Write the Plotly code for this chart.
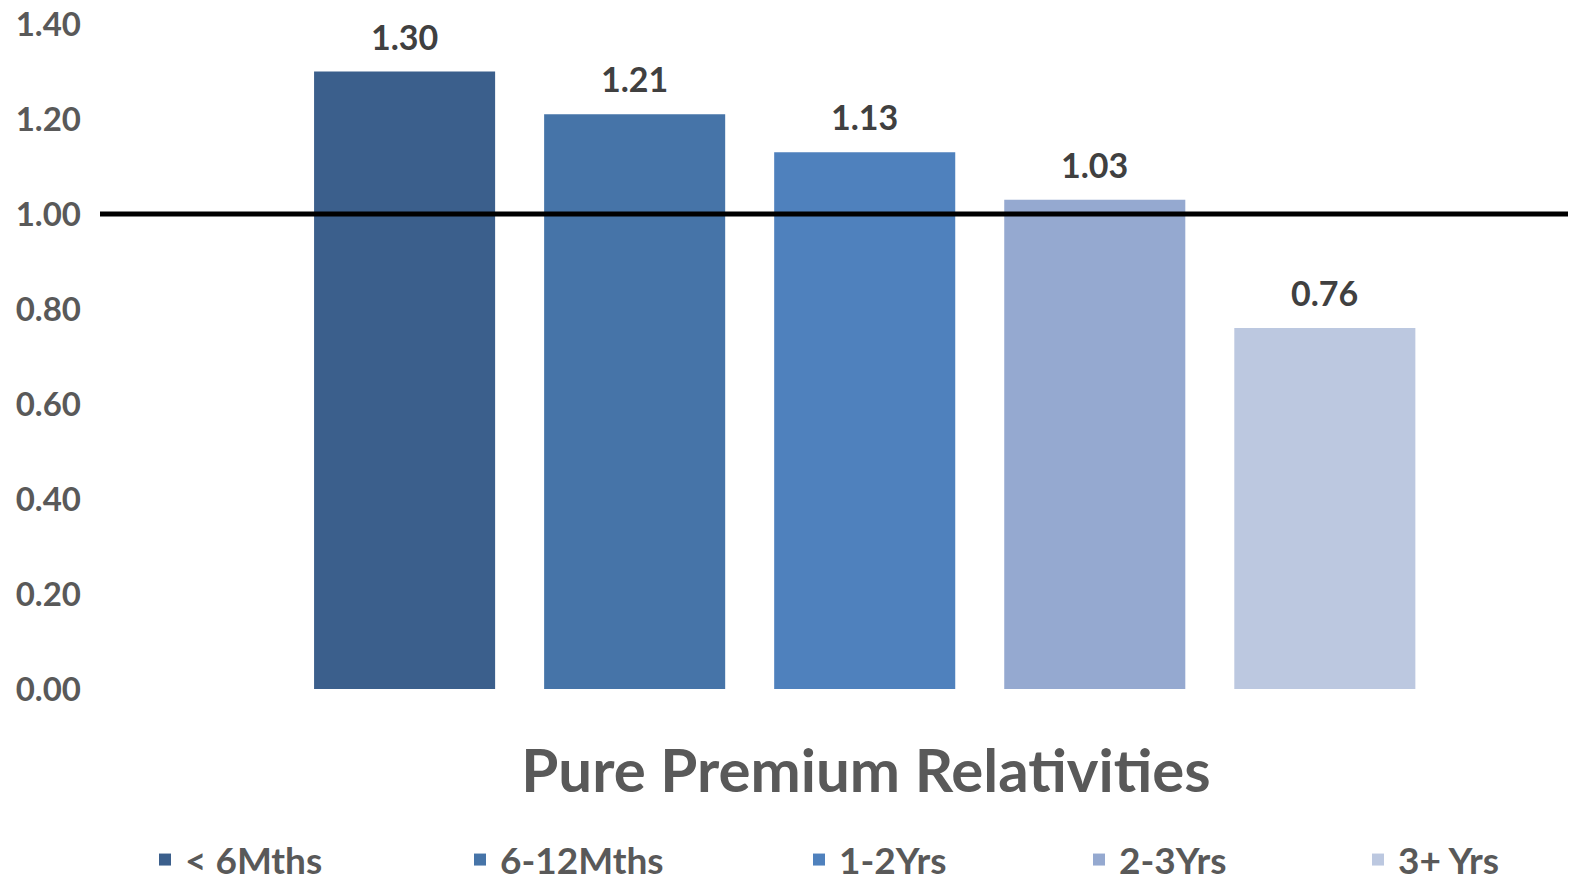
import plotly.graph_objects as go

# Pure premium relativities by tenure band
categories = ["< 6Mths", "6-12Mths", "1-2Yrs", "2-3Yrs", "3+ Yrs"]
relativities = [1.30, 1.21, 1.13, 1.03, 0.76]
bar_colors = ["#3B5F8C", "#4674A8", "#4F81BD", "#95A9D0", "#BCC8E0"]
y_ticks = [0.0, 0.2, 0.4, 0.6, 0.8, 1.0, 1.2, 1.4]
base_level = 1.0

FONT = "Lato"
GREY = "#595959"
DARK = "#404040"

W, H = 1570, 885
ML, MR, MT, MB = 100, 2, 24, 196
plot_w = W - ML - MR
plot_h = H - MT - MB

# left edge (px) of each legend entry along the bottom row
legend_left_px = [145, 460, 799, 1079, 1358]
legend_row_px = 860

fig = go.Figure()
layout_legends = {}
for i, (name, val, col) in enumerate(zip(categories, relativities, bar_colors)):
    key = "legend" if i == 0 else f"legend{i + 1}"
    fig.add_trace(go.Bar(
        x=[i], y=[val], name=name, width=0.787,
        marker=dict(color=col, line=dict(width=0)),
        hoverinfo="name+y", legend=key,
    ))
    layout_legends[key] = dict(
        orientation="h",
        x=(legend_left_px[i] - ML) / plot_w, xanchor="left",
        y=(H - MB - legend_row_px) / plot_h, yanchor="middle",
        font=dict(family=FONT, size=37, color=GREY, weight="bold"),
        bgcolor="rgba(0,0,0,0)",
    )
    fig.add_annotation(
        x=i, y=val, text=f"{val:.2f}", showarrow=False,
        yanchor="bottom", yshift=13,
        font=dict(family=FONT, size=34, color=DARK, weight="bold"),
    )

# reference line at relativity 1.00
fig.add_shape(
    type="line", xref="paper", yref="y", x0=0, x1=1,
    y0=base_level, y1=base_level,
    line=dict(color="black", width=5), layer="above",
)

fig.update_layout(
    width=W, height=H,
    margin=dict(l=ML, r=MR, t=MT, b=MB, autoexpand=False),
    paper_bgcolor="white", plot_bgcolor="white",
    barmode="overlay",
    showlegend=True,
    title=dict(
        text="Pure Premium Relativities",
        x=866 / W, xref="container", xanchor="center",
        y=1 - 771 / H, yref="container", yanchor="middle",
        font=dict(family=FONT, size=60, color=GREY, weight="bold"),
    ),
    xaxis=dict(
        range=[-1.324, 5.057], showticklabels=False, showgrid=False,
        zeroline=False, showline=False, ticks="",
    ),
    yaxis=dict(
        range=[0, 1.4], tickvals=y_ticks, tickformat=".2f",
        showgrid=False, zeroline=False, showline=False, ticks="",
        ticklabelstandoff=18,
        tickfont=dict(family=FONT, size=33, color=GREY, weight="bold"),
    ),
    **layout_legends,
)

fig.write_html("out.html")
